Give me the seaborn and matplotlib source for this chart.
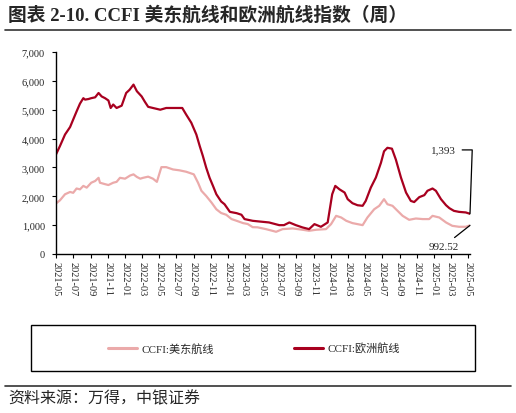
import matplotlib
matplotlib.use("Agg")
import matplotlib.pyplot as plt
import matplotlib.dates as mdates
import matplotlib.ticker as mticker
from matplotlib.patches import Rectangle
from matplotlib.lines import Line2D
import seaborn as sns
import pandas as pd

# ---------------- data ----------------
title = "图表 2-10. CCFI 美东航线和欧洲航线指数（周）"
source = "资料来源：万得，中银证券"
label_us = "CCFI:美东航线"
label_eu = "CCFI:欧洲航线"

eu_dates = ["2021-05-01","2021-05-15","2021-06-02","2021-06-20","2021-07-01","2021-07-13","2021-07-25","2021-08-06","2021-08-12","2021-08-24",
            "2021-09-03","2021-09-17","2021-09-29","2021-10-10","2021-10-22","2021-11-03","2021-11-11","2021-11-20","2021-12-02","2021-12-20",
            "2022-01-05","2022-01-17","2022-01-31","2022-02-12","2022-03-01","2022-03-12","2022-03-24","2022-04-10","2022-05-06","2022-05-27",
            "2022-06-20","2022-07-06","2022-07-23","2022-08-06","2022-08-24","2022-09-11","2022-09-23","2022-10-04","2022-10-16","2022-10-28",
            "2022-11-09","2022-11-21","2022-12-08","2022-12-20","2023-01-08","2023-02-01","2023-02-18","2023-03-01","2023-03-30","2023-04-22",
            "2023-05-27","2023-07-02","2023-07-19","2023-08-07","2023-08-30","2023-09-23","2023-10-16","2023-11-04","2023-11-27","2023-12-21",
            "2024-01-06","2024-01-17","2024-02-01","2024-02-19","2024-03-01","2024-03-18","2024-04-05","2024-04-23","2024-05-04","2024-05-22",
            "2024-06-09","2024-06-27","2024-07-08","2024-07-20","2024-08-05","2024-08-19","2024-09-06","2024-09-24","2024-10-11","2024-10-23",
            "2024-11-10","2024-11-28","2024-12-09","2024-12-27","2025-01-08","2025-01-26","2025-02-13","2025-02-25","2025-03-13","2025-03-31",
            "2025-04-24","2025-05-09"]
eu_vals = [3450,3740,4140,4400,4660,4940,5210,5400,5350,5370,
           5400,5430,5580,5460,5400,5320,5060,5180,5060,5140,
           5580,5690,5870,5640,5460,5280,5100,5060,5000,5060,
           5060,5060,5060,4830,4550,4140,3740,3400,2990,2640,
           2360,2070,1820,1725,1460,1415,1360,1210,1150,1127,
           1093,1000,1000,1093,1000,920,862,1035,943,1093,
           2070,2360,2240,2130,1900,1760,1690,1670,1840,2300,
           2650,3160,3560,3680,3650,3270,2650,2130,1840,1800,
           1970,2040,2190,2270,2190,1900,1690,1587,1495,1460,
           1440,1393]

us_dates = ["2021-05-01","2021-05-15","2021-06-02","2021-06-20","2021-07-01","2021-07-13","2021-07-25","2021-08-06","2021-08-18","2021-09-03",
            "2021-09-17","2021-09-29","2021-10-04","2021-10-22","2021-11-03","2021-11-20","2021-12-02","2021-12-14","2022-01-01","2022-01-19",
            "2022-01-31","2022-02-12","2022-02-24","2022-03-06","2022-03-24","2022-04-10","2022-04-24","2022-05-04","2022-05-10","2022-05-27",
            "2022-06-20","2022-07-13","2022-08-06","2022-09-02","2022-09-17","2022-09-29","2022-10-16","2022-11-04","2022-11-21","2022-12-08",
            "2022-12-26","2023-01-14","2023-02-01","2023-02-24","2023-03-12","2023-03-30","2023-04-16","2023-05-16","2023-06-21","2023-07-14",
            "2023-08-19","2023-09-23","2023-10-16","2023-11-10","2023-12-15","2024-01-02","2024-01-20","2024-02-07","2024-02-25","2024-03-18",
            "2024-04-23","2024-05-10","2024-06-03","2024-06-21","2024-07-08","2024-07-20","2024-08-07","2024-08-25","2024-09-12","2024-10-05",
            "2024-10-29","2024-11-22","2024-12-15","2024-12-27","2025-01-20","2025-02-13","2025-03-07","2025-03-31","2025-04-24","2025-05-09"]
us_vals = [1750,1860,2070,2150,2120,2270,2240,2360,2300,2470,
           2530,2640,2470,2420,2390,2470,2500,2640,2610,2720,
           2760,2670,2610,2640,2680,2610,2500,2820,3010,3010,
           2930,2900,2850,2760,2470,2190,2010,1780,1550,1420,
           1360,1210,1150,1070,1040,930,925,862,770,862,
           886,840,805,840,862,1035,1322,1265,1150,1070,
           1000,1265,1550,1670,1900,1725,1670,1495,1322,1185,
           1230,1210,1210,1322,1265,1093,977,943,943,992.52]

x_start = "2021-05-01"
x_end = "2025-05-09"

# ---------------- style ----------------
sns.set_style("white")
plt.rcParams["font.family"] = ["Liberation Serif", "Noto Sans CJK SC", "DejaVu Sans"]
plt.rcParams["axes.unicode_minus"] = False

c_eu = "#A8001F"
c_us = "#EBAAAA"

W, H = 516, 414
fig = plt.figure(figsize=(W / 100, H / 100), dpi=100)

def fx(px):
    return px / W

def fy(py):
    return 1 - py / H

ax = fig.add_axes([fx(56), fy(255), fx(470) - fx(56), fy(53) - fy(255)])

df_eu = pd.DataFrame({"date": pd.to_datetime(eu_dates), "value": eu_vals})
df_us = pd.DataFrame({"date": pd.to_datetime(us_dates), "value": us_vals})

sns.lineplot(data=df_us, x="date", y="value", ax=ax, color=c_us, linewidth=1.6, label=label_us)
sns.lineplot(data=df_eu, x="date", y="value", ax=ax, color=c_eu, linewidth=1.6, label=label_eu)

ax.set_xlim(pd.Timestamp(x_start), pd.Timestamp(x_end))
ax.set_ylim(0, 7000)
ax.yaxis.set_major_locator(mticker.MultipleLocator(1000))
ax.yaxis.set_major_formatter(mticker.FuncFormatter(lambda v, p: f"{v:,.0f}"))
ax.xaxis.set_major_locator(mdates.MonthLocator(bymonth=[1, 3, 5, 7, 9, 11]))
ax.xaxis.set_major_formatter(mdates.DateFormatter("%Y-%m"))
ax.set_xlabel("")
ax.set_ylabel("")

for s in ["top", "right"]:
    ax.spines[s].set_visible(False)
for s in ["left", "bottom"]:
    ax.spines[s].set_color("black")
    ax.spines[s].set_linewidth(1.0)

ax.tick_params(axis="y", which="major", direction="out", length=3, width=0.8, color="black",
               labelsize=7.5, pad=5, left=True)
ax.tick_params(axis="x", which="major", direction="out", length=3, width=0.8, color="black",
               labelsize=7.5, pad=2, bottom=True)
for lab in ax.get_xticklabels():
    lab.set_rotation(270)
    lab.set_ha("center")
    lab.set_va("top")

# legend handled at figure level
handles, labels = ax.get_legend_handles_labels()
ax.get_legend().remove()
fig.patches.append(Rectangle((fx(31), fy(372)), fx(475) - fx(31), fy(326) - fy(372),
                             transform=fig.transFigure, fill=False, edgecolor="black", linewidth=1.0))
leg = fig.legend(handles, labels, loc="center", bbox_to_anchor=(fx(254), fy(349)), ncol=2,
                 frameon=False, fontsize=8, handlelength=2.6, handletextpad=0.4, columnspacing=7.2)
for ln in leg.get_lines():
    ln.set_linewidth(2.2)

# annotations of last values
last_eu_d = pd.Timestamp(eu_dates[-1])
last_us_d = pd.Timestamp(us_dates[-1])
ax.annotate(f"{eu_vals[-1]:,.0f}", xy=(last_eu_d, eu_vals[-1]), xytext=(-10, 46),
            textcoords="offset points", ha="right", va="center", fontsize=8,
            annotation_clip=False,
            arrowprops=dict(arrowstyle="-", color="black", lw=0.9, shrinkA=2, shrinkB=0,
                            connectionstyle="angle,angleA=0,angleB=88,rad=0"))
ax.annotate(f"{us_vals[-1]:,.2f}", xy=(last_us_d, us_vals[-1]), xytext=(-19, -15),
            textcoords="offset points", ha="center", va="center", fontsize=8,
            annotation_clip=False,
            arrowprops=dict(arrowstyle="-", color="black", lw=0.9, shrinkA=1, shrinkB=0))

# title, rules, source
fig.text(fx(8), fy(15), title, ha="left", va="center", fontsize=13.5, fontweight="bold",
         family=["Liberation Serif", "Noto Sans CJK SC"])
fig.add_artist(Line2D([fx(5), fx(511)], [fy(31), fy(31)], transform=fig.transFigure,
                      color="#333333", linewidth=1.2))
fig.add_artist(Line2D([fx(5), fx(511)], [fy(387), fy(387)], transform=fig.transFigure,
                      color="#333333", linewidth=1.2))
fig.text(fx(8), fy(399), source, ha="left", va="center", fontsize=11.5, style="italic",
         family=["Noto Sans CJK SC", "DejaVu Sans"])

fig.savefig("out.png", dpi=100)
